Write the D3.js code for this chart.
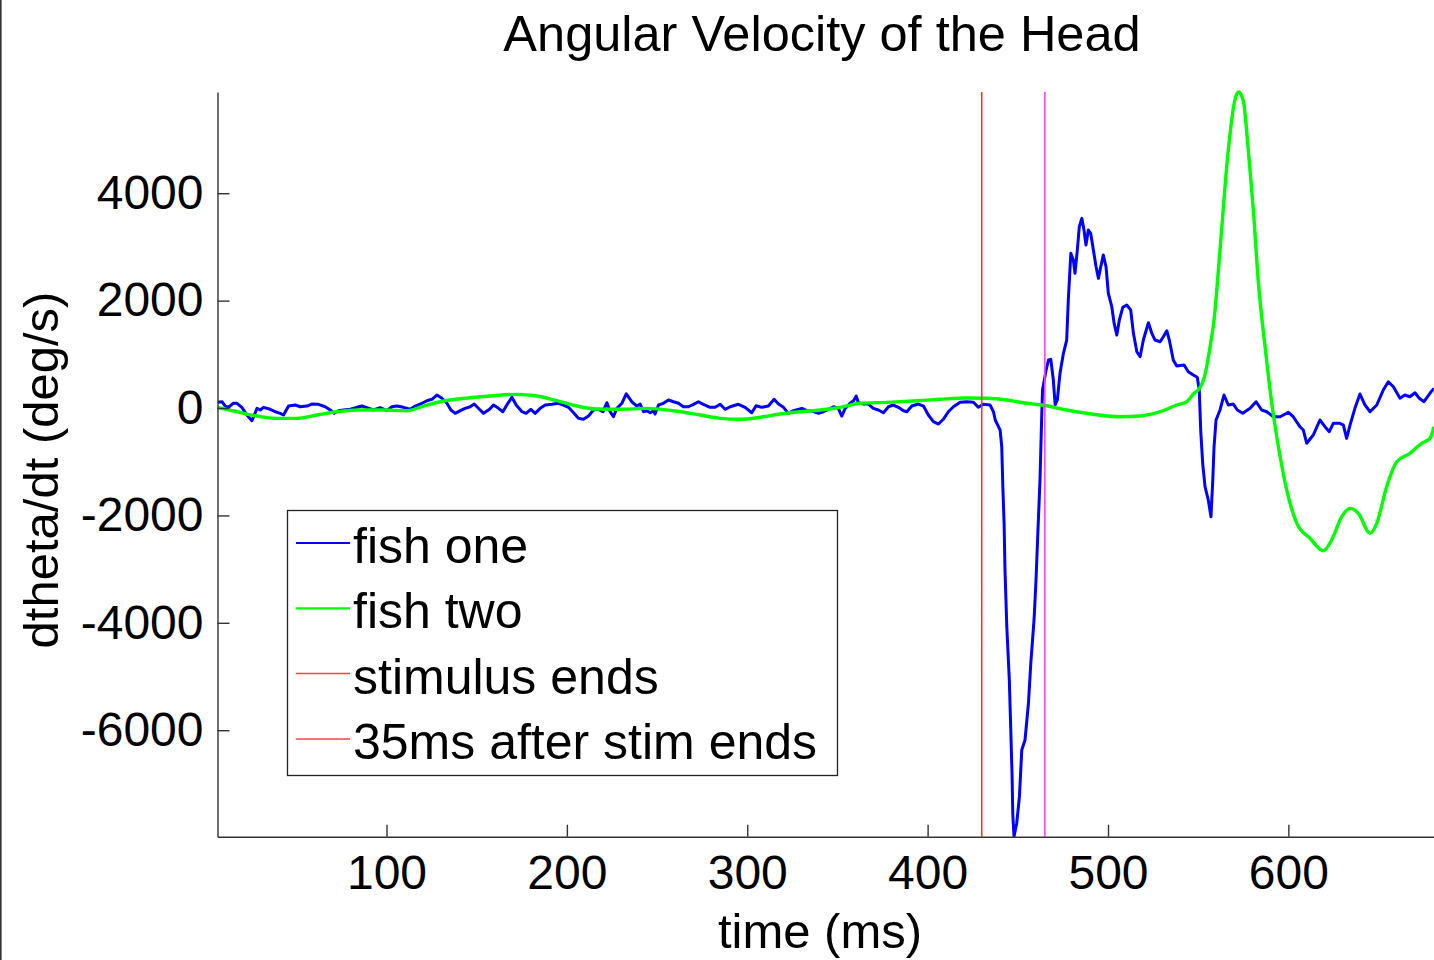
<!DOCTYPE html>
<html>
<head>
<meta charset="utf-8">
<script src="https://cdn.jsdelivr.net/npm/d3@7/dist/d3.min.js"></script>
<style>
  html, body { margin: 0; padding: 0; background: #fff; }
  svg { display: block; }
  text { font-family: "Liberation Sans", Arial, Helvetica, sans-serif; fill: #000; }
</style>
</head>
<body>
<svg id="chart" width="1434" height="960"></svg>
<script>
// Head angular velocity (deg/s) against time (ms), [time, value] pairs
const fishOne = [
  [6.3,106],[8.8,117],[10.6,37],[12.4,13],[14.9,88],[17.1,88],[19.8,13],[22.6,-130],[25.4,-236],[28.2,-6],
  [30.0,-37],[31.8,13],[35.5,-24],[38.3,-69],[41.1,-99],[42.9,-130],[45.7,37],[49.4,56],[52.2,24],[55.9,37],
  [58.6,74],[62.3,69],[66.0,24],[68.8,-37],[71.0,-99],[73.4,-50],[76.2,-37],[79.9,-24],[83.6,13],[86.4,37],
  [89.1,6],[92.8,-37],[96.5,6],[100.2,-50],[103.0,24],[105.8,37],[109.4,13],[113.1,-24],[115.9,37],[119.6,88],
  [122.4,136],[125.2,162],[127.9,242],[130.7,181],[133.5,88],[135.7,-37],[138.1,-99],[140.9,-50],[143.6,-6],[146.4,24],
  [148.6,74],[151.5,-24],[153.8,-99],[157.1,-24],[159.3,56],[162.1,-6],[164.5,-69],[167.3,88],[169.5,199],[171.9,56],
  [175.1,-69],[177.4,-99],[180.0,-24],[182.4,-99],[185.2,-6],[188.0,56],[191.7,69],[195.3,88],[198.1,56],[200.9,13],
  [203.7,-88],[206.4,-192],[209.2,-210],[212.0,-149],[214.7,-37],[217.5,-24],[220.0,-69],[222.2,99],[224.0,-69],[225.8,-162],
  [227.7,-6],[230.5,88],[232.9,265],[236.0,117],[238.8,37],[240.6,74],[242.5,-69],[244.3,-50],[246.2,-88],[248.0,-50],
  [248.9,-112],[250.8,56],[253.5,88],[256.3,149],[259.1,117],[261.9,88],[264.6,24],[267.4,24],[270.2,69],[272.9,117],
  [275.7,69],[279.4,13],[282.2,13],[285.0,69],[287.7,-24],[290.5,24],[295.1,69],[298.8,13],[302.5,-88],[304.9,43],
  [308.1,13],[311.7,37],[314.9,162],[317.3,74],[320.1,13],[322.8,-99],[325.6,-50],[330.3,-6],[333.0,-50],[335.8,-56],
  [339.5,-99],[342.2,-69],[345.0,-24],[347.8,24],[350.5,-6],[352.4,-149],[354.3,-6],[357.0,88],[358.9,136],[360.4,223],
  [361.6,99],[364.4,74],[367.2,74],[369.9,-6],[372.7,-37],[375.5,-88],[378.3,24],[381.0,56],[383.8,13],[386.6,-50],
  [388.5,-69],[391.2,37],[394.9,74],[397.7,37],[400.4,-130],[403.2,-255],[406.0,-298],[408.7,-210],[411.5,-69],[414.3,24],
  [418.0,106],[421.7,117],[425.4,106],[428.1,13],[430.9,69],[434.6,56],[436.5,-69],[437.5,-223],[440.2,-410],[441.1,-721],
  [441.7,-1465],[442.4,-2147],[442.9,-3016],[443.9,-4072],[445.3,-5065],[446.1,-5996],[446.8,-6802],[447.2,-7547],[447.9,-7980],[449.4,-7733],
  [450.9,-7238],[452.2,-6368],[454.0,-6182],[455.9,-5498],[457.2,-4754],[459.0,-3947],[460.1,-3202],[461.4,-2085],[462.3,-1341],[463.3,-99],
  [463.7,335],[465.7,708],[467.0,894],[468.3,907],[469.7,521],[470.7,56],[471.9,149],[473.4,646],[475.3,1019],[477.1,1266],
  [478.0,2011],[479.4,2881],[480.8,2756],[481.7,2508],[483.0,2942],[484.1,3376],[485.5,3532],[486.7,3314],[487.8,3035],[489.1,3314],
  [490.4,3253],[491.9,2942],[493.4,2631],[494.7,2415],[496.0,2631],[497.4,2849],[498.9,2631],[500.2,2136],[502.1,1886],[503.4,1577],
  [504.9,1359],[506.3,1639],[508.2,1875],[510.4,1918],[512.6,1825],[514.1,1391],[516.0,1048],[517.8,955],[519.6,1266],[522.4,1588],
  [524.3,1391],[526.1,1266],[528.9,1235],[530.7,1328],[532.6,1439],[534.0,1266],[536.2,894],[538.1,782],[542.2,801],[544.5,676],
  [547.3,614],[549.5,572],[550.6,335],[551.4,-410],[552.5,-1030],[553.8,-1465],[555.6,-1713],[557.1,-2024],[558.1,-1341],[558.8,-721],
  [559.9,-223],[562.1,-37],[564.3,242],[566.7,56],[569.5,74],[571.7,-37],[574.7,-99],[578.8,-6],[582.1,117],[585.2,-37],
  [588.0,-69],[591.7,-162],[595.4,-162],[600.0,-80],[602.7,-162],[606.4,-348],[608.3,-410],[610.2,-657],[613.8,-503],[617.5,-223],
  [620.3,-348],[622.7,-441],[624.9,-285],[628.6,-285],[630.5,-317],[632.3,-564],[634.2,-317],[636.9,-6],[639.7,261],[642.5,56],
  [645.3,-69],[649.0,56],[652.6,335],[655.4,490],[658.2,397],[661.9,181],[664.6,242],[667.4,210],[670.2,285],[672.6,181],
  [675.2,117],[678.5,274],[680.7,367]
];

const fishTwo = [
  [6.3,13],[17.1,-69],[28.2,-149],[39.2,-192],[50.3,-192],[61.4,-130],[72.5,-69],[83.6,-37],[98.3,-37],[111.3,-50],
  [120.5,37],[131.6,130],[146.4,192],[159.3,229],[172.3,255],[183.4,223],[194.5,136],[205.5,37],[216.6,-19],[229.5,-24],
  [244.3,-6],[259.1,-50],[273.9,-130],[285.0,-192],[296.1,-210],[307.2,-173],[318.2,-112],[329.3,-69],[340.4,-37],[351.5,13],
  [362.6,88],[377.4,106],[392.1,130],[406.9,162],[421.7,186],[432.8,181],[443.9,149],[455.0,88],[463.3,56],[477.1,-37],
  [491.9,-117],[506.7,-162],[517.8,-149],[528.9,-69],[538.1,56],[543.5,112],[547.4,261],[550.7,367],[553.3,559],[555.0,819],
  [556.6,1141],[558.8,1639],[561.0,2476],[563.2,3407],[565.4,4338],[567.6,5083],[569.8,5642],[571.7,5865],[572.7,5885],[573.6,5848],
  [575.3,5673],[577.7,4841],[580.6,3687],[583.4,2328],[587.1,1141],[590.8,88],[594.5,-721],[599.1,-1527],[604.7,-2147],[612.0,-2426],
  [619.4,-2657],[624.0,-2458],[629.6,-2024],[634.2,-1868],[638.8,-1961],[645.3,-2333],[649.0,-2147],[654.5,-1465],[660.1,-1000],[667.4,-843],
  [673.9,-657],[678.5,-564],[680.7,-348]
];

const stimulusEnd = 430;      // ms
const stimulusPlus35 = 465;   // ms

const xTicks = [100, 200, 300, 400, 500, 600];
const yTicks = [-6000, -4000, -2000, 0, 2000, 4000];
const xDomain = [6.3, 681.3];
const yDomain = [-7983, 5885];

const legendLabels = ["fish one", "fish two", "stimulus ends", "35ms after stim ends"];
const legendColors = ["#0000ff", "#00ff00", "#ff4040", "#ff4040"];

const plot = { left: 217.5, right: 1435, top: 92, bottom: 836.7 };

const svg = d3.select("#chart");

// thin dark border along the left edge of the figure
svg.append("rect").attr("x", 0).attr("y", 0).attr("width", 1.6).attr("height", 960).attr("fill", "#333");

const x = d3.scaleLinear().domain(xDomain).range([plot.left, plot.right]);
const y = d3.scaleLinear().domain(yDomain).range([plot.bottom, plot.top]);

svg.append("defs").append("clipPath").attr("id", "plotclip")
  .append("rect")
  .attr("x", plot.left).attr("y", plot.top - 2)
  .attr("width", plot.right - plot.left).attr("height", plot.bottom - plot.top + 3);

const body = svg.append("g").attr("clip-path", "url(#plotclip)");

const line = d3.line().x(d => x(d[0])).y(d => y(d[1]));
const smoothLine = d3.line().x(d => x(d[0])).y(d => y(d[1])).curve(d3.curveMonotoneX);

body.append("path").datum(fishOne)
  .attr("d", line)
  .attr("fill", "none").attr("stroke", "#0000ff").attr("stroke-width", 3)
  .attr("stroke-linejoin", "round");

body.append("path").datum(fishTwo)
  .attr("d", smoothLine)
  .attr("fill", "none").attr("stroke", "#00ff00").attr("stroke-width", 3.4)
  .attr("stroke-linejoin", "round");

// stimulus markers
body.append("line")
  .attr("x1", x(stimulusEnd)).attr("x2", x(stimulusEnd))
  .attr("y1", plot.top).attr("y2", plot.bottom)
  .attr("stroke", "#ff3030").attr("stroke-width", 1.6);
body.append("line")
  .attr("x1", x(stimulusPlus35)).attr("x2", x(stimulusPlus35))
  .attr("y1", plot.top).attr("y2", plot.bottom)
  .attr("stroke", "#ff40ff").attr("stroke-width", 1.6);

// axes with inward ticks; plain hyphen for negative labels
const plainNum = d => String(d);
const xAxis = d3.axisBottom(x).tickValues(xTicks).tickSizeInner(-12).tickSizeOuter(0).tickPadding(18)
  .tickFormat(plainNum);
const yAxis = d3.axisLeft(y).tickValues(yTicks).tickSizeInner(-12).tickSizeOuter(0).tickPadding(14)
  .tickFormat(plainNum);

const gx = svg.append("g").attr("transform", `translate(0,${plot.bottom})`).call(xAxis);
const gy = svg.append("g").attr("transform", `translate(${plot.left},0)`).call(yAxis);

[gx, gy].forEach(g => {
  g.select(".domain").attr("stroke", "#333").attr("stroke-width", 1.4);
  g.selectAll(".tick line").attr("stroke", "#333").attr("stroke-width", 1.4);
  g.selectAll(".tick text")
    .attr("font-family", '"Liberation Sans", Arial, sans-serif')
    .attr("font-size", 48).attr("fill", "#000");
});

// titles
svg.append("text").attr("x", 822).attr("y", 51).attr("text-anchor", "middle")
  .attr("font-size", 50.5).text("Angular Velocity of the Head");
svg.append("text").attr("x", 820).attr("y", 948).attr("text-anchor", "middle")
  .attr("font-size", 49).text("time (ms)");
svg.append("text").attr("transform", "translate(58,470) rotate(-90)").attr("text-anchor", "middle")
  .attr("font-size", 49).text("dtheta/dt (deg/s)");

// legend
const legend = svg.append("g");
legend.append("rect")
  .attr("x", 287.5).attr("y", 510.5).attr("width", 550).attr("height", 265)
  .attr("fill", "#fff").attr("stroke", "#222").attr("stroke-width", 1.3);

legendLabels.forEach((label, i) => {
  const base = 563 + i * 65.3;
  legend.append("line")
    .attr("x1", 296).attr("x2", 350)
    .attr("y1", base - 20).attr("y2", base - 20)
    .attr("stroke", legendColors[i]).attr("stroke-width", i < 2 ? 2.2 : 1.5);
  legend.append("text").attr("x", 353).attr("y", base)
    .attr("font-size", 50).text(label);
});
</script>
</body>
</html>
